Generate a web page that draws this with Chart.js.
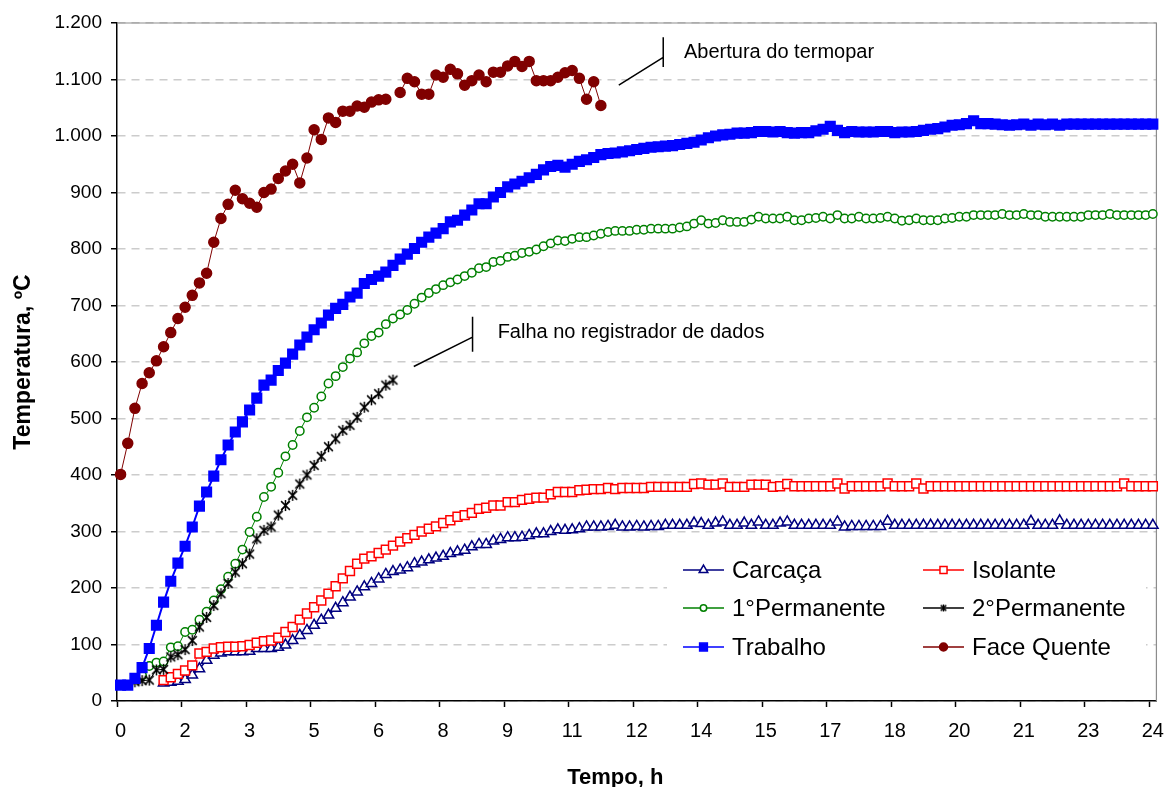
<!DOCTYPE html>
<html>
<head>
<meta charset="utf-8">
<script src="https://cdn.jsdelivr.net/npm/chart.js@4.4.1/dist/chart.umd.min.js"></script>
<style>
  html, body { margin: 0; padding: 0; background: #fff; }
  #grafico { display: block; }
</style>
</head>
<body>
<canvas id="grafico" width="1176" height="787"></canvas>
<script>
var fonte = '"Liberation Sans", Arial, sans-serif';

// leituras a cada 10 minutos, de 0 a 24 h
var passoMin = 10;
var tempo = [];
for (var i = 0; i <= 24 * 60 / passoMin; i++) tempo.push(i * passoMin);

// rotulo a cada 9 leituras (1,5 h), arredondado como no grafico original
var rotulosX = ["0", "2", "3", "5", "6", "8", "9", "11", "12", "14", "15", "17", "18", "20", "21", "23", "24"];
var marcasY = [0, 100, 200, 300, 400, 500, 600, 700, 800, 900, 1000, 1100, 1200];

var nomes = ["Carcaça", "Isolante", "1°Permanente", "2°Permanente", "Trabalho", "Face Quente"];

var carcaca = [null, null, null, null, null, null,
  32, 33, 35, 38, 46, 57, 72, 81, 85, 87,
  87, 87, 88, 93, 93, 93, 95, 99, 107, 116,
  125, 134, 143, 152, 164, 174, 184, 193, 202, 208,
  216, 224, 229, 232, 236, 243, 246, 250, 253, 256,
  261, 264, 267, 273, 277, 277, 283, 286, 289, 289,
  290, 293, 296, 296, 300, 303, 302, 303, 305, 308,
  308, 308, 309, 311, 308, 308, 309, 308, 309, 309,
  311, 311, 311, 311, 315, 314, 311, 315, 317, 311,
  311, 315, 311, 317, 311, 311, 315, 317, 311, 311,
  311, 311, 311, 311, 317, 308, 309, 309, 309, 309,
  309, 318, 311, 311, 311, 311, 311, 311, 311, 311,
  311, 311, 311, 311, 311, 311, 311, 311, 311, 311,
  311, 318, 311, 311, 311, 319, 311, 311, 311, 311,
  311, 311, 311, 311, 311, 311, 311, 311, 311];

var isolante = [null, null, null, null, null, null,
  37, 42, 48, 54, 63, 84, 87, 93, 95, 96,
  96, 97, 99, 103, 106, 107, 112, 122, 131, 144,
  155, 166, 178, 190, 203, 217, 230, 243, 252, 256,
  262, 268, 275, 282, 288, 294, 300, 305, 309, 315,
  320, 326, 329, 333, 340, 342, 346, 346, 352, 352,
  356, 358, 360, 360, 366, 370, 370, 370, 373, 374,
  375, 375, 377, 375, 377, 377, 377, 377, 379, 379,
  379, 379, 379, 379, 384, 385, 383, 383, 385, 379,
  379, 379, 383, 383, 383, 379, 380, 384, 380, 380,
  380, 380, 380, 380, 385, 376, 380, 380, 380, 380,
  380, 385, 380, 380, 380, 385, 376, 380, 380, 380,
  380, 380, 380, 380, 380, 380, 380, 380, 380, 380,
  380, 380, 380, 380, 380, 380, 380, 380, 380, 380,
  380, 380, 380, 380, 385, 380, 380, 380, 380];

var permanente1 = [null, null, null,
  45, 62, 68, 70, 95, 97, 122,
  126, 144, 158, 178, 198, 220, 243, 268, 299, 326,
  361, 379, 404, 433, 453, 478, 502, 519, 539, 562,
  575, 591, 606, 617, 633, 646, 652, 667, 677, 684,
  692, 703, 714, 722, 729, 736, 741, 746, 752, 758,
  766, 768, 777, 779, 786, 788, 793, 795, 799, 805,
  810, 815, 814, 818, 821, 821, 824, 827, 830, 832,
  832, 832, 834, 834, 836, 836, 836, 836, 838, 840,
  845, 851, 845, 846, 851, 848, 848, 848, 852, 857,
  854, 854, 854, 857, 851, 851, 854, 855, 857, 854,
  860, 854, 854, 857, 854, 854, 855, 857, 854, 850,
  851, 854, 851, 851, 851, 854, 855, 857, 857, 860,
  860, 860, 860, 862, 860, 860, 862, 860, 860, 857,
  857, 857, 857, 857, 857, 860, 860, 860, 862, 860,
  860, 860, 860, 860, 862];

// o registrador falhou depois de ~6,3 h
var permanente2 = [null, null,
  34, 36, 37, 55, 56, 78, 82, 91,
  107, 131, 148, 169, 190, 208, 228, 243, 260, 287,
  302, 308, 329, 346, 364, 384, 400, 417, 433, 450,
  464, 479, 488, 502, 520, 533, 544, 559, 568];

var trabalho = [28, 28, 40, 59, 93, 134, 175, 212, 244, 274,
  308, 345, 370, 398, 427, 453, 476, 494, 515, 536,
  559, 568, 585, 598, 614, 630, 644, 657, 669, 683,
  695, 702, 715, 722, 739, 746, 752, 759, 771, 782,
  791, 801, 812, 821, 828, 836, 848, 851, 860, 869,
  880, 880, 892, 900, 910, 915, 920, 926, 932, 940,
  946, 948, 945, 950, 955, 958, 962, 967, 969, 970,
  972, 974, 976, 978, 980, 981, 982, 983, 985, 987,
  989, 993, 997, 1000, 1002, 1003, 1005, 1005, 1006, 1008,
  1008, 1007, 1008, 1006, 1005, 1006, 1006, 1009, 1012, 1017,
  1010, 1006, 1008, 1007, 1007, 1007, 1008, 1008, 1006, 1007,
  1007, 1008, 1010, 1012, 1013, 1016, 1019, 1020, 1022, 1027,
  1022, 1022, 1021, 1020, 1019, 1020, 1021, 1019, 1021, 1020,
  1021, 1019, 1021, 1021, 1021, 1021, 1021, 1021, 1021, 1021,
  1021, 1021, 1021, 1021, 1021];

// termopar abriu depois de ~11,2 h
var faceQuente = [401, 456, 518, 562, 581, 602, 627, 652, 677, 697,
  718, 740, 757, 812, 854, 879, 904, 889, 881, 874,
  900, 906, 925, 938, 950, 917, 961, 1011, 994, 1032,
  1024, 1044, 1044, 1053, 1051, 1060, 1064, 1065, null, 1077,
  1102, 1096, 1074, 1074, 1108, 1104, 1118, 1110, 1090, 1098,
  1108, 1096, 1113, 1113, 1124, 1132, 1123, 1132, 1098, 1098,
  1098, 1104, 1112, 1116, 1102, 1065, 1096, 1054];

// marcador tipo asterisco (X com traco vertical), como no Excel
function criarAsterisco(tam) {
  var c = document.createElement("canvas");
  c.width = tam;
  c.height = tam;
  var g = c.getContext("2d");
  var m = tam / 2, r = tam / 2 - 1;
  g.strokeStyle = "#000";
  g.lineWidth = 1.5;
  g.beginPath();
  g.moveTo(m - r * 0.8, m - r * 0.8); g.lineTo(m + r * 0.8, m + r * 0.8);
  g.moveTo(m + r * 0.8, m - r * 0.8); g.lineTo(m - r * 0.8, m + r * 0.8);
  g.moveTo(m, m - r); g.lineTo(m, m + r);
  g.stroke();
  return c;
}
var asterisco = criarAsterisco(13);
var asteriscoPequeno = criarAsterisco(9);

function formatar(v) {
  if (v < 1000) return String(v);
  return Math.floor(v / 1000) + "." + String(v % 1000).padStart(3, "0");
}

// moldura cinza do plot
var moldura = {
  id: "moldura",
  beforeDatasetsDraw: function (chart) {
    var a = chart.chartArea, ctx = chart.ctx;
    ctx.save();
    ctx.strokeStyle = "#8c8c8c";
    ctx.lineWidth = 1.2;
    ctx.beginPath();
    ctx.moveTo(a.left, a.top);
    ctx.lineTo(a.right, a.top);
    ctx.lineTo(a.right, a.bottom);
    ctx.stroke();
    ctx.restore();
  }
};

// legenda em duas colunas dentro da area do grafico
var legendaInterna = {
  id: "legendaInterna",
  afterDatasetsDraw: function (chart) {
    var ctx = chart.ctx;
    var colX = [683, 923];
    var linhaY = [570, 608, 647];
    ctx.save();
    ctx.fillStyle = "#fff";
    ctx.fillRect(667, 547, 479, 122);
    chart.data.datasets.forEach(function (ds, k) {
      var x = colX[k % 2], y = linhaY[Math.floor(k / 2)];
      ctx.setLineDash([]);
      ctx.strokeStyle = ds.borderColor;
      ctx.lineWidth = 1.5;
      ctx.beginPath();
      ctx.moveTo(x, y);
      ctx.lineTo(x + 41, y);
      ctx.stroke();
      ctx.fillStyle = ds.pointBackgroundColor;
      ctx.strokeStyle = ds.pointBorderColor;
      ctx.lineWidth = ds.pointBorderWidth;
      var estilo = ds.pointStyle === asterisco ? asteriscoPequeno : ds.pointStyle;
      Chart.helpers.drawPoint(ctx, {
        pointStyle: estilo, radius: ds.legendRadius, rotation: 0, borderWidth: ds.pointBorderWidth
      }, x + 20.5, y);
      ctx.fillStyle = "#000";
      ctx.font = "24px " + fonte;
      ctx.textAlign = "left";
      ctx.textBaseline = "middle";
      ctx.fillText(ds.label, x + 49, y + 1);
    });
    ctx.restore();
  }
};

// notas com a linha de chamada
var notas = [
  { texto: "Falha no registrador de dados", de: [40.9, 592], ate: [49.1, 644], haste: [618, 680], pos: [52.6, 653] },
  { texto: "Abertura do termopar", de: [69.5, 1090], ate: [75.7, 1139], haste: [1122, 1175], pos: [78.6, 1148] }
];

var chamadas = {
  id: "chamadas",
  afterDatasetsDraw: function (chart) {
    var ctx = chart.ctx, sx = chart.scales.x, sy = chart.scales.y;
    ctx.save();
    ctx.strokeStyle = "#000";
    ctx.lineWidth = 1.5;
    ctx.fillStyle = "#000";
    ctx.font = "20px " + fonte;
    ctx.textBaseline = "middle";
    notas.forEach(function (n) {
      ctx.beginPath();
      ctx.moveTo(sx.getPixelForValue(n.de[0]), sy.getPixelForValue(n.de[1]));
      ctx.lineTo(sx.getPixelForValue(n.ate[0]), sy.getPixelForValue(n.ate[1]));
      ctx.moveTo(sx.getPixelForValue(n.ate[0]), sy.getPixelForValue(n.haste[0]));
      ctx.lineTo(sx.getPixelForValue(n.ate[0]), sy.getPixelForValue(n.haste[1]));
      ctx.stroke();
      ctx.fillText(n.texto, sx.getPixelForValue(n.pos[0]), sy.getPixelForValue(n.pos[1]));
    });
    ctx.restore();
  }
};

function serie(nome, dados, cor, estilo, raio, fundo, espessura, ordem, raioLeg) {
  return {
    label: nome,
    data: dados,
    borderColor: cor,
    borderWidth: espessura,
    pointStyle: estilo,
    pointRadius: raio,
    pointBackgroundColor: fundo,
    pointBorderColor: cor,
    pointBorderWidth: 1.5,
    tension: 0,
    spanGaps: false,
    order: ordem,
    legendRadius: raioLeg
  };
}

new Chart(document.getElementById("grafico"), {
  type: "line",
  data: {
    labels: tempo,
    datasets: [
      serie(nomes[0], carcaca, "#000080", "triangle", 6, "#fff", 1.5, 5, 5),
      serie(nomes[1], isolante, "#ff0000", "rect", 6.3, "#fff", 1, 4, 5),
      serie(nomes[2], permanente1, "#008000", "circle", 4.2, "#fff", 1, 3, 3.2),
      serie(nomes[3], permanente2, "#000000", asterisco, 5, "#000", 1, 2, 4),
      serie(nomes[4], trabalho, "#0000ff", "rect", 6.8, "#0000ff", 2, 1, 5.5),
      serie(nomes[5], faceQuente, "#800000", "circle", 5, "#800000", 1, 0, 4)
    ]
  },
  options: {
    responsive: false,
    animation: false,
    devicePixelRatio: 1,
    layout: { padding: { top: 23, right: 13, left: 0, bottom: 0 } },
    plugins: {
      legend: { display: false },
      tooltip: { enabled: false }
    },
    scales: {
      x: {
        type: "category",
        offset: true,
        grid: {
          offset: true,
          drawOnChartArea: false,
          drawTicks: true,
          tickLength: 6,
          color: "rgba(0,0,0,0)",
          tickWidth: 1.5,
          tickColor: function (c) { return c.index % 9 === 0 ? "#000" : "rgba(0,0,0,0)"; }
        },
        border: { color: "#000", width: 1.5 },
        ticks: {
          autoSkip: false,
          maxRotation: 0,
          minRotation: 0,
          padding: 12,
          color: "#000",
          font: { family: fonte, size: 20 },
          callback: function (v, idx) { return idx % 9 === 0 ? rotulosX[idx / 9] : ""; }
        },
        title: {
          display: true,
          // espacos no fim puxam o titulo um pouco para a esquerda, como no original
          text: "Tempo, h\u00a0\u00a0\u00a0\u00a0\u00a0\u00a0\u00a0",
          color: "#000",
          font: { family: fonte, size: 22, weight: "bold", lineHeight: 0.8 },
          padding: { top: 0, bottom: 0 }
        },
        afterFit: function (s) { s.height = 86; }
      },
      y: {
        min: 0,
        max: 1200,
        afterBuildTicks: function (s) { s.ticks = marcasY.map(function (v) { return { value: v }; }); },
        grid: {
          color: "#cccccc",
          lineWidth: 1.5,
          tickLength: 6,
          tickColor: "#000",
          tickWidth: 1.5,
          tickBorderDash: []
        },
        border: { color: "#000", width: 1.5, dash: [8, 6] },
        ticks: {
          padding: 9,
          color: "#000",
          font: { family: fonte, size: 19 },
          callback: function (v) { return formatar(v); }
        },
        title: {
          display: true,
          text: "Temperatura, ºC",
          color: "#000",
          font: { family: fonte, size: 23, weight: "bold" },
          padding: { top: 10, bottom: 0 }
        },
        afterFit: function (s) { s.width = 117; }
      }
    }
  },
  plugins: [moldura, chamadas, legendaInterna]
});
</script>
</body>
</html>
